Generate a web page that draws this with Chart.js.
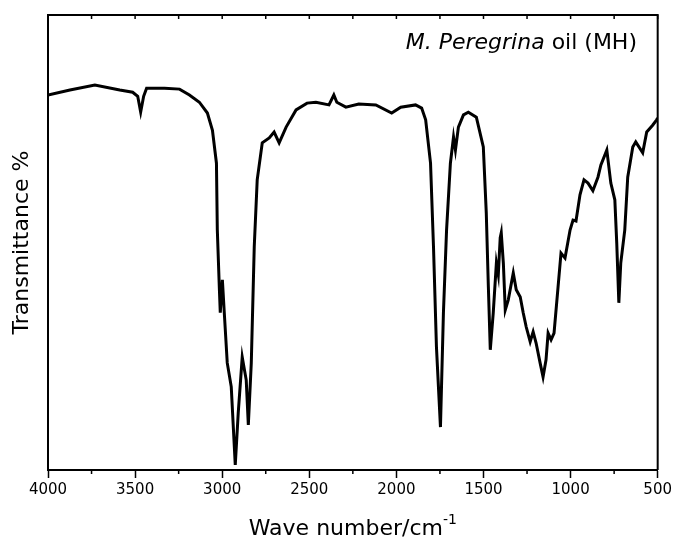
<!DOCTYPE html>
<html>
<head>
<meta charset="utf-8">
<script src="https://cdn.jsdelivr.net/npm/chart.js@4.4.1/dist/chart.umd.min.js"></script>
<style>
  html, body { margin: 0; padding: 0; background: #fff; }
</style>
</head>
<body>
<canvas id="chart" width="675" height="543"></canvas>
<script>
// FTIR spectrum (arbitrary transmittance units)
const wavenumbers = [4000, 3874, 3731, 3588, 3514, 3485, 3468, 3451, 3434, 3331,
  3245, 3188, 3131, 3085, 3056, 3033, 3028, 3016, 3011, 3005,
  2999, 2988, 2971, 2948, 2925, 2908, 2885, 2862, 2850, 2833,
  2816, 2799, 2770, 2730, 2702, 2673, 2633, 2576, 2513, 2462,
  2387, 2359, 2342, 2290, 2216, 2118, 2027, 1975, 1890, 1855,
  1832, 1804, 1787, 1770, 1747, 1730, 1712, 1690, 1672, 1661,
  1644, 1615, 1587, 1541, 1501, 1484, 1472, 1461, 1444, 1426,
  1415, 1404, 1398, 1386, 1375, 1358, 1329, 1312, 1289, 1272,
  1255, 1232, 1215, 1198, 1175, 1158, 1141, 1129, 1112, 1095,
  1072, 1055, 1032, 1003, 986, 969, 946, 923, 900, 872,
  843, 826, 792, 769, 746, 735, 723, 712, 689, 672,
  643, 626, 586, 563, 529, 506, 500];

const transmittance = [82.3, 83.4, 84.5, 83.4, 82.9, 82.0, 78.5, 82.0, 83.8, 83.8,
  83.6, 82.3, 80.7, 78.3, 74.5, 67.2, 52.4, 39.2, 34.1, 38.0,
  41.4, 34.1, 23.0, 17.7, 0.4, 11.9, 24.3, 19.2, 9.3, 23.0,
  48.7, 63.5, 71.7, 72.8, 74.1, 71.7, 75.2, 79.0, 80.5, 80.7,
  80.1, 82.3, 80.7, 79.6, 80.3, 80.1, 78.3, 79.6, 80.1, 79.4,
  76.8, 67.2, 48.7, 26.5, 8.8, 34.1, 52.4, 67.2, 73.0, 70.1,
  75.2, 77.9, 78.5, 77.4, 70.8, 56.2, 39.8, 25.9, 34.1, 45.1,
  42.5, 50.7, 51.8, 45.1, 34.7, 36.9, 42.9, 39.2, 37.6, 34.1,
  31.0, 27.7, 29.9, 27.4, 23.0, 19.9, 23.7, 29.6, 28.1, 29.6,
  39.8, 47.3, 46.2, 52.4, 54.6, 54.4, 60.2, 63.5, 62.8, 61.1,
  64.1, 66.8, 70.1, 62.8, 59.1, 49.5, 36.3, 45.1, 52.4, 64.1,
  70.8, 71.9, 69.5, 74.1, 75.6, 76.8, 77.2];

const tickLabels = [4000, 3500, 3000, 2500, 2000, 1500, 1000, 500];
const sampleName = "M. Peregrina";
const sampleRest = " oil (MH)";
const xTitle = "Wave number/cm";
const xTitleSup = "-1";
const yTitle = "Transmittance %";

const FONT = "DejaVu Sans";

const points = wavenumbers.map((w, i) => ({ x: w, y: transmittance[i] }));

// top/right frame, minor ticks, x title with superscript, sample label
const extras = {
  id: "extras",
  afterDraw(chart) {
    const { ctx, chartArea: a, scales: { x } } = chart;
    ctx.save();
    ctx.strokeStyle = "#000";
    ctx.lineWidth = 2;
    ctx.beginPath();
    ctx.moveTo(a.left, a.top);
    ctx.lineTo(a.right, a.top);
    ctx.lineTo(a.right, a.bottom);
    ctx.stroke();

    ctx.lineWidth = 1.5;
    x.ticks.forEach(t => {
      const px = x.getPixelForValue(t.value);
      ctx.beginPath();
      if (!tickLabels.includes(t.value)) {
        ctx.moveTo(px, a.bottom);
        ctx.lineTo(px, a.bottom + 4);
      }
      ctx.moveTo(px, a.top);
      ctx.lineTo(px, a.top + 4);
      ctx.stroke();
    });

    ctx.fillStyle = "#000";
    ctx.textBaseline = "alphabetic";

    // x axis title
    ctx.font = "22px '" + FONT + "'";
    const w1 = ctx.measureText(xTitle).width;
    ctx.font = "14px '" + FONT + "'";
    const w2 = ctx.measureText(xTitleSup).width;
    const cx = (a.left + a.right) / 2;
    let sx = cx - (w1 + w2) / 2;
    ctx.font = "22px '" + FONT + "'";
    ctx.textAlign = "left";
    ctx.fillText(xTitle, sx, 535);
    ctx.font = "14px '" + FONT + "'";
    ctx.fillText(xTitleSup, sx + w1, 524);

    // sample label, right aligned
    ctx.font = "22px '" + FONT + "'";
    const r = ctx.measureText(sampleRest).width;
    ctx.textAlign = "right";
    const rx = 637;
    ctx.fillText(sampleRest, rx, 49);
    ctx.font = "italic 22px '" + FONT + "'";
    ctx.fillText(sampleName, rx - r, 49);
    ctx.restore();
  }
};

new Chart(document.getElementById("chart"), {
  type: "line",
  data: {
    datasets: [{
      data: points,
      borderColor: "#000",
      borderWidth: 3,
      pointRadius: 0,
      tension: 0,
      fill: false
    }]
  },
  options: {
    responsive: false,
    animation: false,
    layout: { padding: { top: 15, right: 16, left: 0, bottom: 0 } },
    plugins: {
      legend: { display: false },
      tooltip: { enabled: false }
    },
    scales: {
      x: {
        type: "linear",
        reverse: true,
        min: 500,
        max: 4000,
        afterFit: s => { s.height = 73; },
        ticks: {
          stepSize: 250,
          autoSkip: false,
          maxRotation: 0,
          padding: 3,
          color: "#000",
          font: { family: FONT, size: 15 },
          callback: v => tickLabels.includes(v) ? String(v) : ""
        },
        grid: {
          display: true,
          drawOnChartArea: false,
          drawTicks: true,
          tickLength: 8,
          tickWidth: 1.5,
          tickColor: c => (c.tick && tickLabels.includes(c.tick.value)) ? "#000" : "rgba(0,0,0,0)"
        },
        border: { display: true, color: "#000", width: 2 }
      },
      y: {
        min: -0.7,
        max: 100,
        afterFit: s => { s.width = 48; },
        ticks: { display: false },
        grid: { display: false },
        border: { display: true, color: "#000", width: 2 },
        title: {
          display: true,
          text: yTitle,
          color: "#000",
          font: { family: FONT, size: 22 },
          padding: { top: 9, bottom: 0 }
        }
      }
    }
  },
  plugins: [extras]
});
</script>
</body>
</html>
